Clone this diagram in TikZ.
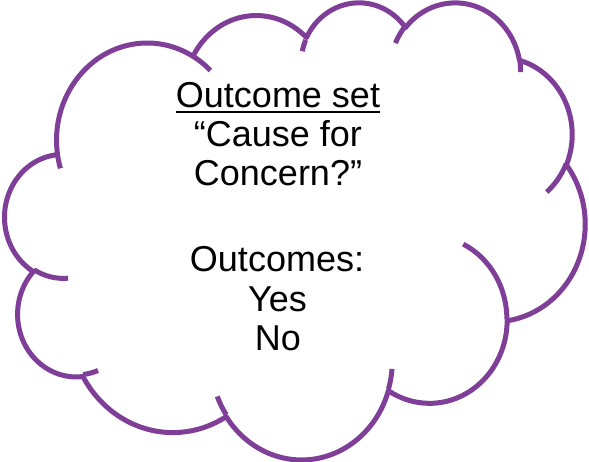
\documentclass[tikz,border=0pt]{standalone}
\usepackage{fontspec}
\setmainfont{Liberation Sans}
\definecolor{cloudpurple}{RGB}{127,63,152}
\newcommand\cldW{580}
\newcommand\cldH{457}
% DrawingML arcTo: wR hR (path units /100), start angle, sweep (degrees, visual, y down)
\newcommand\carc[4]{arc[x radius={#1/432*\cldW*1pt}, y radius={#2/432*\cldH*1pt},
  start angle={-atan2(#1*sin(#3),#2*cos(#3))},
  delta angle={-mod(atan2(#1*sin(#3+#4),#2*cos(#3+#4))-atan2(#1*sin(#3),#2*cos(#3))+720,360)}]}
\tikzset{
  cloudline/.style={draw=cloudpurple, line width=5pt, line join=round},
  cloudtext/.style={anchor=base, inner sep=0pt, font=\fontsize{36}{40}\selectfont}
}
\begin{document}
\begin{tikzpicture}
\useasboundingbox (0,0) rectangle (589pt,462pt);
\begin{scope}[shift={(5pt,460.7pt)}, x=1.342593pt, y=-1.057870pt]
\draw[cloudline, fill=white] (39.00,143.70)
  \carc{67.53}{91.90}{-190.4875}{123.7805}
  \carc{53.33}{72.67}{-144.1024}{89.9452}
  \carc{43.65}{59.45}{-145.8079}{99.7230}
  \carc{48.57}{65.95}{-130.9861}{117.2417}
  \carc{53.33}{72.73}{-78.7089}{109.0269}
  \carc{67.75}{92.20}{-46.2673}{130.2690}
  \carc{57.85}{78.67}{0.6250}{114.0333}
  \carc{67.52}{92.15}{22.4516}{115.1726}
  \carc{77.20}{105.43}{66.2426}{75.7110}
  \carc{43.60}{59.18}{-274.9421}{146.7356}
  \carc{43.45}{59.45}{-246.8285}{152.5189}
  -- cycle;
\draw[cloudline] (46.93,261.77) \carc{43.45}{59.45}{86.7420}{26.4295};
\draw[cloudline] (69.28,348.99) \carc{43.60}{59.18}{73.6105}{11.4475};
\draw[cloudline] (164.78,390.90) \carc{67.52}{92.15}{137.6242}{14.0811};
\draw[cloudline] (288.27,347.51) \carc{67.52}{92.15}{6.4533}{15.9984};
\draw[cloudline] (341.29,229.54) \carc{57.85}{78.67}{-70.2924}{70.9174};
\draw[cloudline] (417.98,153.54) \carc{53.33}{72.73}{30.3180}{27.7515};
\draw[cloudline] (383.24,54.26) \carc{48.57}{65.95}{-13.7443}{14.8589};
\draw[cloudline] (290.78,39.52) \carc{48.57}{65.95}{-149.1815}{18.1954};
\draw[cloudline] (221.41,47.20) \carc{43.65}{59.45}{-163.4943}{13.6429};
\draw[cloudline] (140.00,51.92) \carc{67.53}{91.90}{-66.7070}{12.3194};
\draw[cloudline] (41.27,157.89) \carc{67.53}{91.90}{157.6544}{11.8582};
\end{scope}
\node[cloudtext] (t1) at (278pt,354.5pt) {Outcome set};
\draw[line width=2.2pt] ([yshift=-4.2pt]t1.base west) -- ([yshift=-4.2pt]t1.base east);
\node[cloudtext] (t2) at (278pt,315pt) {“Cause for};
\node[cloudtext] (t3) at (278pt,276.5pt) {Concern?”};
\node[cloudtext] (t4) at (277pt,190pt) {Outcomes:};
\node[cloudtext] (t5) at (277.5pt,150.5pt) {Yes};
\node[cloudtext] (t6) at (278pt,111pt) {No};
\end{tikzpicture}
\end{document}
